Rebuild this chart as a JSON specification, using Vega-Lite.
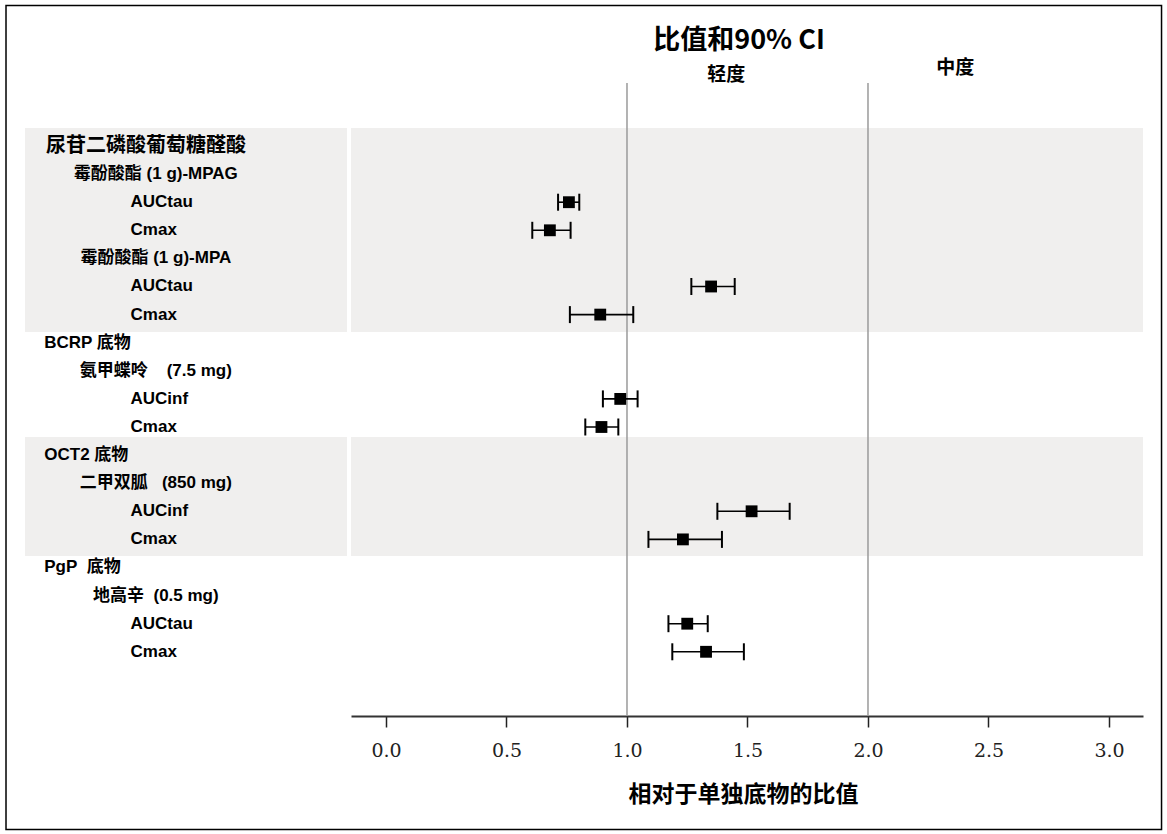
{
  "$schema": "https://vega.github.io/schema/vega-lite/v6.json",
  "width": 792,
  "height": 633,
  "padding": {"left": 5, "top": 4, "right": 5, "bottom": 4},
  "background": "white",
  "config": {"view": {"stroke": null}},
  "datasets": {
    "rows": [
      {"row": 1, "label": "尿苷二磷酸葡萄糖醛酸", "level": "class"},
      {"row": 2, "label": "霉酚酸酯 (1 g)-MPAG", "level": "drug"},
      {"row": 3, "label": "AUCtau", "level": "param", "ratio": 0.759, "lo": 0.714, "hi": 0.802},
      {"row": 4, "label": "Cmax", "level": "param", "ratio": 0.68, "lo": 0.607, "hi": 0.766},
      {"row": 5, "label": "霉酚酸酯 (1 g)-MPA", "level": "drug"},
      {"row": 6, "label": "AUCtau", "level": "param", "ratio": 1.349, "lo": 1.267, "hi": 1.447},
      {"row": 7, "label": "Cmax", "level": "param", "ratio": 0.889, "lo": 0.763, "hi": 1.026},
      {"row": 8, "label": "BCRP 底物", "level": "group"},
      {"row": 9, "label": "氨甲蝶呤\u00a0\u00a0\u00a0 (7.5 mg)", "level": "drug"},
      {"row": 10, "label": "AUCinf", "level": "param", "ratio": 0.972, "lo": 0.9, "hi": 1.044},
      {"row": 11, "label": "Cmax", "level": "param", "ratio": 0.894, "lo": 0.827, "hi": 0.964},
      {"row": 12, "label": "OCT2 底物", "level": "group"},
      {"row": 13, "label": "二甲双胍\u00a0\u00a0 (850 mg)", "level": "drug"},
      {"row": 14, "label": "AUCinf", "level": "param", "ratio": 1.517, "lo": 1.375, "hi": 1.675},
      {"row": 15, "label": "Cmax", "level": "param", "ratio": 1.232, "lo": 1.089, "hi": 1.394},
      {"row": 16, "label": "PgP\u00a0 底物", "level": "group"},
      {"row": 17, "label": "地高辛\u00a0 (0.5 mg)", "level": "drug"},
      {"row": 18, "label": "AUCtau", "level": "param", "ratio": 1.25, "lo": 1.172, "hi": 1.335},
      {"row": 19, "label": "Cmax", "level": "param", "ratio": 1.328, "lo": 1.188, "hi": 1.485}
    ],
    "bands": [
      {"start": 0.36, "end": 7.62},
      {"start": 11.36, "end": 15.59}
    ],
    "refs": [{"ref": 1}, {"ref": 2}],
    "one": [{}]
  },
  "layer": [
    {
      "data": {"name": "one"},
      "mark": {"type": "rect", "filled": false, "stroke": "black", "strokeWidth": 1.5},
      "encoding": {
        "x": {
          "datum": -1.5767,
          "type": "quantitative",
          "scale": {"domain": [-0.1452, 3.1411], "nice": false, "zero": false},
          "axis": {
            "values": [0, 0.5, 1, 1.5, 2, 2.5, 3],
            "format": ".1f",
            "grid": false,
            "domainColor": "#333333",
            "domainWidth": 2,
            "tickColor": "#222222",
            "tickWidth": 1.5,
            "tickSize": 11,
            "labelFont": "DejaVu Serif",
            "labelFontSize": 19,
            "labelColor": "#222222",
            "labelPadding": 14,
            "labelFlush": false,
            "title": "相对于单独底物的比值",
            "titleFont": "Noto Sans CJK SC",
            "titleFontSize": 23,
            "titleFontWeight": "bold",
            "titleColor": "black",
            "titlePadding": 23,
            "titleX": 392
          }
        },
        "x2": {"datum": 3.218},
        "y": {"datum": -4.0, "type": "quantitative", "scale": {"domain": [-1.242, 21.285], "nice": false, "zero": false, "reverse": true}, "axis": null},
        "y2": {"datum": 25.324}
      }
    },
    {
      "data": {"name": "bands"},
      "mark": {"type": "rect", "color": "#f0efee"},
      "encoding": {
        "x": {"datum": -1.498, "type": "quantitative"},
        "x2": {"datum": -0.162},
        "y": {"field": "start", "type": "quantitative", "axis": null},
        "y2": {"field": "end"}
      }
    },
    {
      "data": {"name": "bands"},
      "mark": {"type": "rect", "color": "#f0efee"},
      "encoding": {
        "x": {"datum": -0.1452, "type": "quantitative"},
        "x2": {"datum": 3.1411},
        "y": {"field": "start", "type": "quantitative", "axis": null},
        "y2": {"field": "end"}
      }
    },
    {
      "data": {"name": "refs"},
      "mark": {"type": "rule", "color": "#9a9a9a", "strokeWidth": 1.5},
      "encoding": {
        "x": {"field": "ref", "type": "quantitative"}
      }
    },
    {
      "data": {"name": "rows"},
      "transform": [{"filter": "datum.level === 'param'"}],
      "layer": [
        {
          "mark": {"type": "rule", "color": "black", "strokeWidth": 1.6},
          "encoding": {
            "x": {"field": "lo", "type": "quantitative"},
            "x2": {"field": "hi"},
            "y": {"field": "row", "type": "quantitative", "axis": null}
          }
        },
        {
          "mark": {"type": "tick", "orient": "vertical", "size": 17, "thickness": 2, "color": "black", "opacity": 1},
          "encoding": {
            "x": {"field": "lo", "type": "quantitative"},
            "y": {"field": "row", "type": "quantitative", "axis": null}
          }
        },
        {
          "mark": {"type": "tick", "orient": "vertical", "size": 17, "thickness": 2, "color": "black", "opacity": 1},
          "encoding": {
            "x": {"field": "hi", "type": "quantitative"},
            "y": {"field": "row", "type": "quantitative", "axis": null}
          }
        },
        {
          "mark": {"type": "point", "shape": "square", "filled": true, "size": 140, "color": "black", "opacity": 1},
          "encoding": {
            "x": {"field": "ratio", "type": "quantitative"},
            "y": {"field": "row", "type": "quantitative", "axis": null}
          }
        },
        {
          "mark": {"type": "text", "align": "left", "baseline": "middle", "font": "Liberation Sans, Noto Sans CJK SC", "fontSize": 17, "fontWeight": "bold", "color": "black"},
          "encoding": {
            "x": {"datum": -1.06, "type": "quantitative"},
            "y": {"field": "row", "type": "quantitative", "axis": null},
            "text": {"field": "label"}
          }
        }
      ]
    },
    {
      "data": {"name": "rows"},
      "transform": [{"filter": "datum.level === 'drug'"}],
      "mark": {"type": "text", "align": "center", "baseline": "middle", "font": "Liberation Sans, Noto Sans CJK SC", "fontSize": 17, "fontWeight": "bold", "color": "black"},
      "encoding": {
        "x": {"datum": -0.955, "type": "quantitative"},
        "y": {"field": "row", "type": "quantitative", "axis": null},
        "text": {"field": "label"}
      }
    },
    {
      "data": {"name": "rows"},
      "transform": [{"filter": "datum.level === 'group'"}],
      "mark": {"type": "text", "align": "left", "baseline": "middle", "font": "Liberation Sans, Noto Sans CJK SC", "fontSize": 17, "fontWeight": "bold", "color": "black"},
      "encoding": {
        "x": {"datum": -1.418, "type": "quantitative"},
        "y": {"field": "row", "type": "quantitative", "axis": null},
        "text": {"field": "label"}
      }
    },
    {
      "data": {"name": "rows"},
      "transform": [{"filter": "datum.level === 'class'"}],
      "mark": {"type": "text", "align": "left", "baseline": "middle", "font": "Noto Sans CJK SC", "fontSize": 20, "fontWeight": "bold", "color": "black"},
      "encoding": {
        "x": {"datum": -1.411, "type": "quantitative"},
        "y": {"field": "row", "type": "quantitative", "axis": null},
        "text": {"field": "label"}
      }
    },
    {
      "data": {"name": "one"},
      "mark": {"type": "text", "align": "center", "baseline": "middle", "font": "Noto Sans CJK SC", "fontSize": 27, "fontWeight": "bold", "color": "black", "text": "比值和90% CI"},
      "encoding": {
        "x": {"datum": 1.465, "type": "quantitative"},
        "y": {"datum": -2.74, "type": "quantitative", "axis": null}
      }
    },
    {
      "data": {"name": "one"},
      "mark": {"type": "text", "align": "center", "baseline": "middle", "font": "Noto Sans CJK SC", "fontSize": 19, "fontWeight": "bold", "color": "black", "text": "轻度"},
      "encoding": {
        "x": {"datum": 1.412, "type": "quantitative"},
        "y": {"datum": -1.53, "type": "quantitative", "axis": null}
      }
    },
    {
      "data": {"name": "one"},
      "mark": {"type": "text", "align": "center", "baseline": "middle", "font": "Noto Sans CJK SC", "fontSize": 19, "fontWeight": "bold", "color": "black", "text": "中度"},
      "encoding": {
        "x": {"datum": 2.362, "type": "quantitative"},
        "y": {"datum": -1.78, "type": "quantitative", "axis": null}
      }
    }
  ]
}
